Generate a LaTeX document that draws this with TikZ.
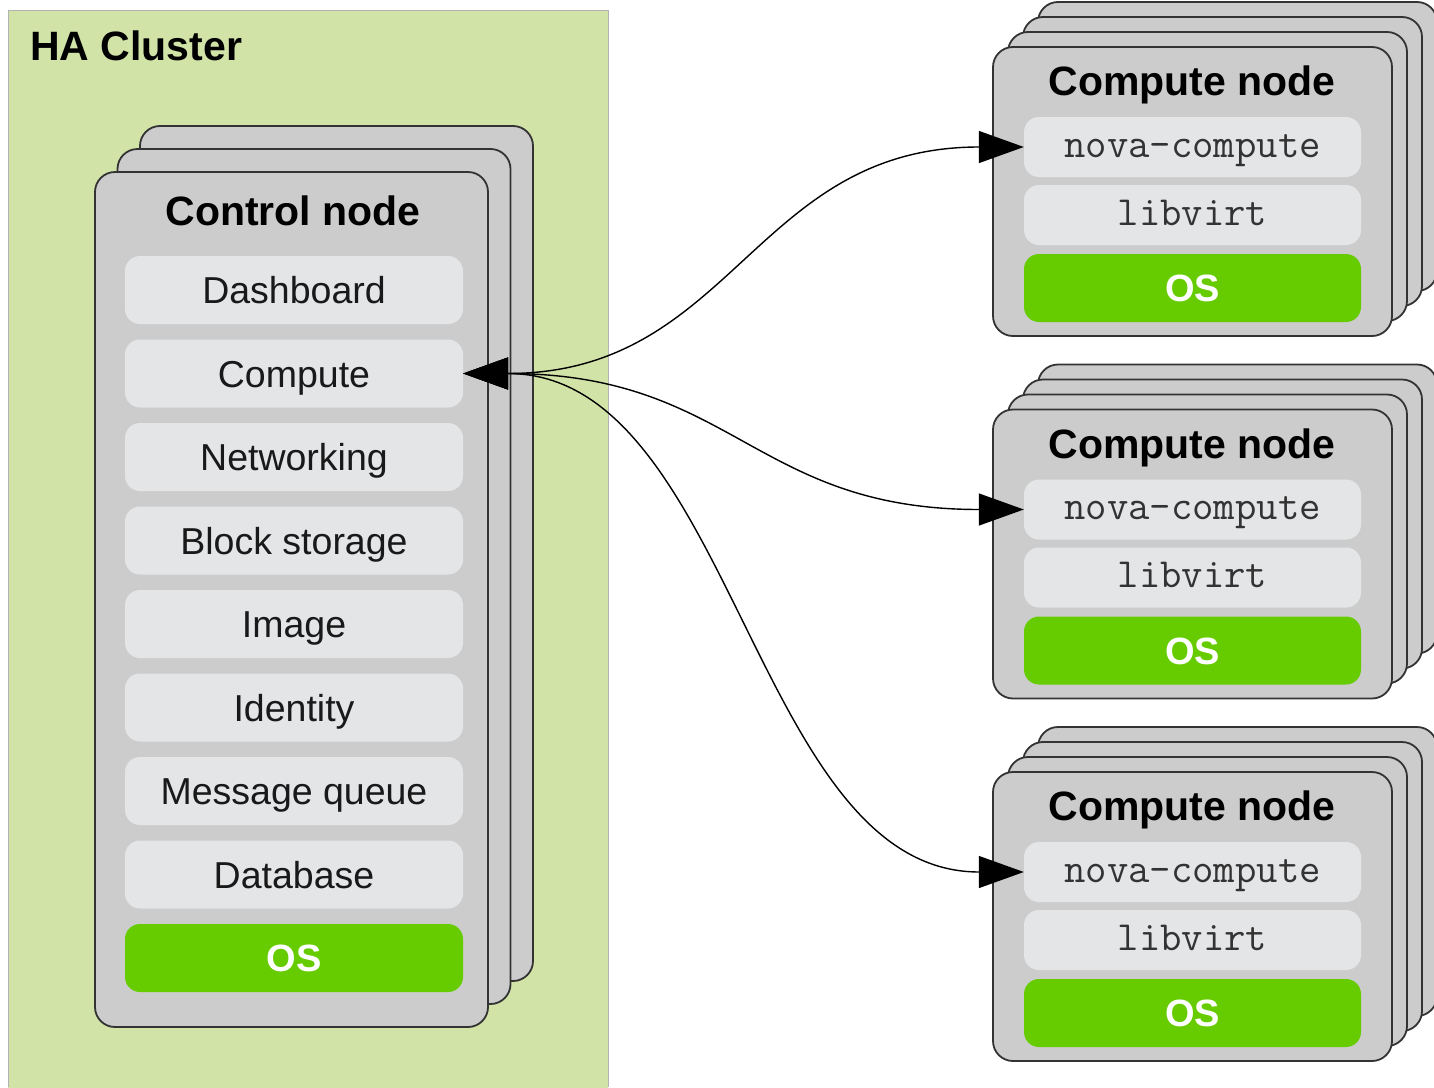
\documentclass[tikz,border=0pt]{standalone}
\usepackage{fontspec}
\setmainfont{Liberation Sans}
\usetikzlibrary{arrows.meta}
\definecolor{clustergreen}{HTML}{D1E3A7}
\definecolor{boxgray}{HTML}{CCCCCC}
\definecolor{itemgray}{HTML}{E4E5E7}
\definecolor{osgreen}{HTML}{66CC00}

\tikzset{
  stackbox/.style={draw=black!80, line width=1.8pt, fill=boxgray, rounded corners=20pt},
  item/.style={fill=itemgray, rounded corners=15pt, minimum width=338pt, minimum height=68pt,
    inner sep=0pt, text height=27pt, text depth=0pt, text=black!90,
    font=\fontsize{37.5}{40}\selectfont},
  monoitem/.style={item, minimum width=337pt, minimum height=60pt, text height=20pt,
    text=black!80, font=\fontsize{41.5}{44}\selectfont\ttfamily},
  osbox/.style={item, fill=osgreen, text=white, text height=27.5pt,
    font=\fontsize{38}{40}\selectfont\bfseries},
  headtext/.style={text height=29.5pt, text depth=0pt, inner sep=0pt,
    font=\fontsize{41}{44}\selectfont\bfseries},
  rpc/.style={line width=1.4pt, {Triangle[length=45pt,width=32pt]}-{Triangle[length=45pt,width=32pt]}}
}

\begin{document}
\begin{tikzpicture}[x=1pt, y=-1pt]
  \useasboundingbox (0,0) rectangle (1434,1087);
  \fill[clustergreen] (8,10) rectangle (608,1095);
  \draw[black!30, line width=1pt] (8,1087) -- (8,10) -- (608,10) -- (608,1087);
  \node[headtext, anchor=west] (cluster) at (30,45.5) {HA Cluster};

  % control node, two copies behind it
  \foreach \k in {2,1}
    \node[stackbox, minimum width=393pt, minimum height=855pt] at (291.5+22.5*\k, 599.5-23*\k) {};
  \node[stackbox, minimum width=393pt, minimum height=855pt] (ctl) at (291.5,599.5) {};
  \node[headtext] (ctl-title) at (293,211) {Control node};
  \foreach \name/\txt [count=\i from 0] in {dash/Dashboard, comp/Compute, net/Networking,
      block/Block storage, img/Image, ident/Identity, mq/Message queue, db/Database}
    \node[item] (ctl-\name) at (294,290+83.5*\i) {\txt};
  \node[osbox] (ctl-os) at (294,958) {OS};

  % compute nodes
  \foreach \n/\dy in {1/0, 2/362.5, 3/725} {
    \foreach \k in {3,2,1}
      \node[stackbox, minimum width=399pt, minimum height=289pt] at (1192.5+15*\k, 191.5+\dy-15*\k) {};
    \node[stackbox, minimum width=399pt, minimum height=289pt] (cn\n) at (1192.5,191.5+\dy) {};
    \node[headtext] (cn\n-title) at (1192,81+\dy) {Compute node};
    \node[monoitem] (cn\n-nova) at (1192.5,147+\dy) {nova-compute};
    \node[monoitem] (cn\n-virt) at (1192.5,215+\dy) {libvirt};
    \node[osbox, minimum width=337pt] (cn\n-os) at (1192.5,288+\dy) {OS};
    \draw[rpc] (ctl-comp.east) .. controls +(270,0) and +(-270,0) .. (cn\n-nova.west);
  }
\end{tikzpicture}
\end{document}
